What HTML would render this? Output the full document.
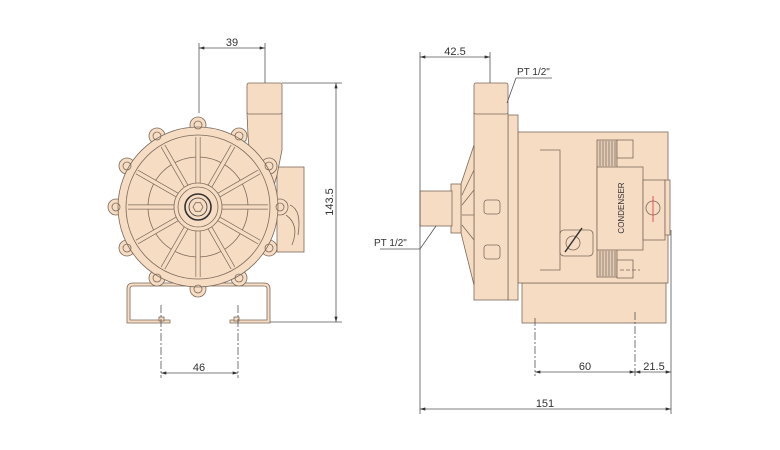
<!DOCTYPE html>
<html><head><meta charset="utf-8"><style>
html,body{margin:0;padding:0;background:#fff;}
svg{display:block;font-family:"Liberation Sans",sans-serif;}
</style></head><body>
<svg width="780" height="450" viewBox="0 0 780 450" xmlns="http://www.w3.org/2000/svg">
<defs>
<marker id="a" viewBox="0 0 10 6" refX="10" refY="3" markerWidth="8" markerHeight="4" orient="auto-start-reverse"><path d="M0,0 L10,3 L0,6 z" fill="#333"/></marker>
</defs>
<g fill="#f7dcc4" stroke="#7a6a5a" stroke-width="0.8">
<!-- LEFT VIEW -->
<path d="M127,323 L127,289 Q127,283 133,283 L264,283 Q270,283 270,289 L270,323 L230,323 L230,320 L267,320 L267,289 Q267,286 264,286 L133,286 Q130,286 130,289 L130,320 L170,320 L170,323 Z"/>
<rect x="277" y="167" width="27" height="85"/>
<path d="M247,113 L282,113 L282,150 L277,175 L270,200 L250,160 L248,135 Z"/>
<rect x="247" y="83" width="35" height="31" rx="2"/>
<g>
<circle cx="198" cy="125" r="8"/><circle cx="157" cy="136" r="8"/><circle cx="239" cy="136" r="8"/>
<circle cx="127" cy="166" r="8"/><circle cx="269" cy="166" r="8"/><circle cx="116" cy="207" r="8"/>
<circle cx="280" cy="207" r="8"/><circle cx="127" cy="248" r="8"/><circle cx="269" cy="248" r="8"/>
<circle cx="157" cy="278" r="8"/><circle cx="239" cy="278" r="8"/><circle cx="198" cy="289" r="8"/>
</g>
<circle cx="198" cy="207" r="80"/>
<circle cx="198" cy="207" r="72"/>
<circle cx="198" cy="207" r="50"/>
<g stroke="#7a6a5a" stroke-width="5">
<line x1="198" y1="183" x2="198" y2="137"/><line x1="198" y1="231" x2="198" y2="277"/>
<line x1="174" y1="207" x2="128" y2="207"/><line x1="222" y1="207" x2="268" y2="207"/>
<line x1="210" y1="186" x2="233" y2="146"/><line x1="186" y1="186" x2="163" y2="146"/>
<line x1="210" y1="228" x2="233" y2="268"/><line x1="186" y1="228" x2="163" y2="268"/>
<line x1="219" y1="195" x2="259" y2="172"/><line x1="177" y1="195" x2="137" y2="172"/>
<line x1="219" y1="219" x2="259" y2="242"/><line x1="177" y1="219" x2="137" y2="242"/>
</g>
<g stroke="#f7dcc4" stroke-width="3.6">
<line x1="198" y1="183" x2="198" y2="137"/><line x1="198" y1="231" x2="198" y2="277"/>
<line x1="174" y1="207" x2="128" y2="207"/><line x1="222" y1="207" x2="268" y2="207"/>
<line x1="210" y1="186" x2="233" y2="146"/><line x1="186" y1="186" x2="163" y2="146"/>
<line x1="210" y1="228" x2="233" y2="268"/><line x1="186" y1="228" x2="163" y2="268"/>
<line x1="219" y1="195" x2="259" y2="172"/><line x1="177" y1="195" x2="137" y2="172"/>
<line x1="219" y1="219" x2="259" y2="242"/><line x1="177" y1="219" x2="137" y2="242"/>
</g>
<circle cx="198" cy="207" r="24"/>
<circle cx="198" cy="207" r="20"/>
<circle cx="198" cy="207" r="13" stroke="#333" stroke-width="1.6"/>
<circle cx="198" cy="207" r="9" stroke="#333"/>
<polygon points="203,207 200.5,211.3 195.5,211.3 193,207 195.5,202.7 200.5,202.7"/>
<g fill="none"><circle cx="198" cy="125" r="4"/><circle cx="157" cy="136" r="4"/><circle cx="239" cy="136" r="4"/>
<circle cx="127" cy="166" r="4"/><circle cx="269" cy="166" r="4"/><circle cx="116" cy="207" r="4"/>
<circle cx="280" cy="207" r="4"/><circle cx="127" cy="248" r="4"/><circle cx="269" cy="248" r="4"/>
<circle cx="157" cy="278" r="4"/><circle cx="239" cy="278" r="4"/><circle cx="198" cy="289" r="4"/></g>
<path d="M290,205 Q302,210 298,235" fill="none"/><path d="M286,215 Q300,225 292,245" fill="none"/>
<rect x="159" y="317" width="5" height="4"/><rect x="234" y="317" width="5" height="4"/>

<!-- RIGHT VIEW -->
<rect x="522" y="283" width="144" height="40"/>
<rect x="518" y="132" width="150" height="151"/>
<rect x="597" y="140" width="20" height="137" fill="#e8cbb3"/>
<g stroke="#555" stroke-width="0.6">
<line x1="600" y1="141" x2="600" y2="166"/><line x1="603" y1="141" x2="603" y2="166"/><line x1="606" y1="141" x2="606" y2="166"/><line x1="609" y1="141" x2="609" y2="166"/><line x1="612" y1="141" x2="612" y2="166"/><line x1="615" y1="141" x2="615" y2="166"/>
<line x1="600" y1="251" x2="600" y2="276"/><line x1="603" y1="251" x2="603" y2="276"/><line x1="606" y1="251" x2="606" y2="276"/><line x1="609" y1="251" x2="609" y2="276"/><line x1="612" y1="251" x2="612" y2="276"/><line x1="615" y1="251" x2="615" y2="276"/>
</g>
<rect x="597" y="167" width="46" height="83"/>
<rect x="617" y="140" width="16" height="18"/><rect x="617" y="260" width="16" height="18"/>
<rect x="643" y="180" width="22" height="60"/>
<circle cx="653" cy="208" r="7"/>
<line x1="653" y1="196" x2="653" y2="222" stroke="#d33"/>
<rect x="665" y="180" width="5" height="55"/>
<path d="M540,150 L560,150 L560,270 L540,270" fill="none"/>
<rect x="560" y="230" width="33" height="26" rx="4"/>
<circle cx="573" cy="243" r="7" fill="none"/>
<line x1="565" y1="252" x2="582" y2="228" stroke="#333" stroke-width="1.5"/>
<line x1="620" y1="270" x2="640" y2="270" stroke-dasharray="4,2"/>
<rect x="508" y="115" width="10" height="185"/>
<rect x="474" y="113" width="34" height="187"/>
<rect x="474" y="83" width="34" height="31" rx="2"/>
<path d="M474,145 L461,184 L461,233 L474,285 Z"/>
<rect x="451" y="184" width="10" height="49"/>
<rect x="420" y="191" width="32" height="35"/>
<rect x="484" y="200" width="16" height="14" rx="3"/><rect x="484" y="245" width="16" height="14" rx="3"/>
<g fill="none"><path d="M462,195 L474,170 M462,205 L474,190 M462,215 L474,215 M462,225 L474,240"/></g>
</g>
<g stroke="#555" stroke-width="0.8" fill="none">
<line x1="199" y1="43" x2="199" y2="113"/><line x1="265" y1="43" x2="265" y2="83"/>
<line x1="199" y1="48" x2="265" y2="48" marker-start="url(#a)" marker-end="url(#a)"/>
<line x1="282" y1="83" x2="342" y2="83"/><line x1="270" y1="322" x2="342" y2="322"/>
<line x1="336" y1="83" x2="336" y2="322" marker-start="url(#a)" marker-end="url(#a)"/>
<line x1="161" y1="305" x2="161" y2="378" stroke-dasharray="8,2,2,2"/><line x1="238" y1="305" x2="238" y2="378" stroke-dasharray="8,2,2,2"/>
<line x1="161" y1="373" x2="238" y2="373" marker-start="url(#a)" marker-end="url(#a)"/>
<line x1="420" y1="52" x2="420" y2="414"/><line x1="490" y1="52" x2="490" y2="83"/>
<line x1="420" y1="57" x2="490" y2="57" marker-start="url(#a)" marker-end="url(#a)"/>
<line x1="671" y1="230" x2="671" y2="414"/>
<line x1="420" y1="409" x2="671" y2="409" marker-start="url(#a)" marker-end="url(#a)"/>
<line x1="535" y1="318" x2="535" y2="376" stroke-dasharray="8,2,2,2"/><line x1="635" y1="312" x2="635" y2="376" stroke-dasharray="8,2,2,2"/>
<line x1="535" y1="372" x2="635" y2="372" marker-start="url(#a)" marker-end="url(#a)"/>
<line x1="635" y1="372" x2="671" y2="372" marker-start="url(#a)" marker-end="url(#a)"/>
<polyline points="507,103 516,78 552,78"/>
<polyline points="436,226 420,249 380,249"/>
</g>
<g fill="#333" font-size="11">
<text x="232" y="46" text-anchor="middle">39</text>
<text x="199" y="371" text-anchor="middle">46</text>
<text transform="translate(333,202) rotate(-90)" text-anchor="middle">143.5</text>
<text x="455" y="55" text-anchor="middle">42.5</text>
<text x="585" y="370" text-anchor="middle">60</text>
<text x="654" y="370" text-anchor="middle">21.5</text>
<text x="545" y="407" text-anchor="middle">151</text>
<text x="517" y="75" font-size="10">PT 1/2"</text>
<text x="374" y="246" font-size="10">PT 1/2"</text>
<text transform="translate(624,208) rotate(-90)" text-anchor="middle" font-size="8">CONDENSER</text>
</g>
</svg>
</body></html>
